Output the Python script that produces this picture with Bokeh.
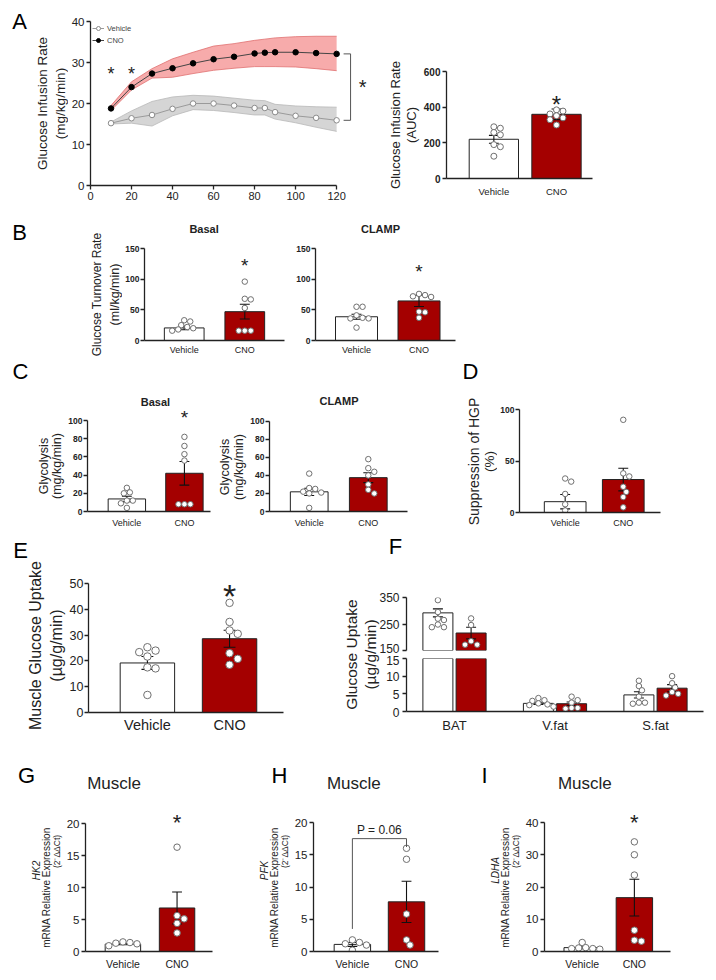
import math
from bokeh.plotting import figure
from bokeh.models import Range1d, FixedTicker, Label, Legend, LegendItem
from bokeh.layouts import row, column
from bokeh.embed import file_html
from bokeh.resources import INLINE

FONT = "Liberation Sans"
INK = "#222222"
RED = "#a40000"
PT = "#707070"

# ------------------------------------------------------------------ data
groups = ["Vehicle", "CNO"]

# A  glucose infusion rate (mg/kg/min), mean and shaded SEM band
time_min = [10, 20, 30, 40, 50, 60, 70, 80, 85, 90, 100, 110, 120]
gir_cno = [18.8, 24.0, 27.3, 28.6, 29.8, 30.8, 31.4, 32.2, 32.4, 32.5, 32.5, 32.3, 32.1]
gir_cno_lo = [18.3, 23.3, 26.2, 26.4, 27.3, 28.1, 28.6, 29.0, 29.0, 29.0, 28.9, 28.5, 28.0]
gir_cno_hi = [19.5, 25.3, 28.5, 30.9, 32.5, 34.0, 34.6, 35.4, 35.7, 36.0, 36.3, 36.4, 36.4]
gir_veh = [15.2, 16.4, 17.2, 18.7, 20.0, 20.0, 19.5, 18.9, 18.9, 17.9, 17.0, 16.5, 15.9]
gir_veh_lo = [15.0, 15.2, 14.5, 17.0, 18.5, 18.3, 17.8, 17.2, 17.2, 16.2, 15.3, 14.2, 13.2]
gir_veh_hi = [15.5, 18.2, 20.5, 21.6, 22.0, 21.8, 21.3, 20.8, 20.7, 19.8, 19.4, 19.2, 19.1]
time_ticks = [0, 20, 40, 60, 80, 100, 120]
gir_ticks = [0, 10, 20, 30, 40]

# A  AUC
auc_means = [220, 360]
auc_sems = [22, 30]
auc_veh = [290, 282, 258, 245, 190, 178, 125]
auc_cno = [385, 378, 362, 352, 340, 330, 300]
auc_ticks = [0, 200, 400, 600]

# B  glucose turnover rate (ml/kg/min)
turn_ticks = [0, 50, 100, 150]
turn_basal_means = [20.5, 47]
turn_basal_sems = [3, 12]
turn_basal_veh = [33, 31, 25, 22, 20, 18, 16]
turn_basal_cno = [96, 68, 67, 53, 16, 16, 16]
turn_clamp_means = [38.7, 64.5]
turn_clamp_sems = [4, 9]
turn_clamp_veh = [55, 55, 41, 37, 36, 36, 21]
turn_clamp_cno = [76, 74, 72, 71, 47, 46, 37]

# C  glycolysis (mg/kg/min)
glyc_ticks = [0, 20, 40, 60, 80, 100]
glyc_basal_means = [13.8, 42]
glyc_basal_sems = [3, 13]
glyc_basal_veh = [26, 21, 20, 12, 12, 9, 4]
glyc_basal_cno = [82, 72, 63, 56, 8, 8, 8]
glyc_clamp_means = [21.8, 37.5]
glyc_clamp_sems = [4, 5.5]
glyc_clamp_veh = [42, 26, 25, 22, 21, 20, 4]
glyc_clamp_cno = [58, 48, 44, 40, 30, 24, 20]

# D  suppression of HGP (%)
hgp_ticks = [0, 50, 100]
hgp_means = [10.5, 32]
hgp_sems = [7, 11]
hgp_veh = [33, 30, 18, 8, 2]
hgp_cno = [90, 38, 35, 25, 20, 15, 5]

# E  muscle glucose uptake (ug/g/min)
mgu_ticks = [0, 10, 20, 30, 40, 50]
mgu_means = [19.2, 28.6]
mgu_sems = [2.5, 3.3]
mgu_veh = [25.3, 24.0, 23.4, 21.7, 17.5, 17.1, 6.8]
mgu_cno = [42.5, 35.1, 31.8, 30.5, 23.0, 20.8, 18.5]

# F  tissue glucose uptake (ug/g/min), broken axis
tissues = ["BAT", "V.fat", "S.fat"]
tgu_top_ticks = [150, 250, 350]
tgu_bot_ticks = [0, 5, 10, 15]
tgu_veh_means = [292, 2.3, 4.7]
tgu_veh_sems = [15, 0.3, 0.9]
tgu_cno_means = [216, 2.2, 6.6]
tgu_cno_sems = [22, 0.5, 1.0]
tgu_veh_pts = [[340, 295, 270, 265, 248, 238, 238], [3.8, 3.2, 3.0, 2.3, 2.0, 1.8, 1.4], [8.7, 7.2, 6.0, 4.2, 2.5, 2.2, 2.5]]
tgu_cno_pts = [[271, 246, 185, 172, 172], [4.2, 3.2, 2.5, 1.0, 1.0, 0.8], [10.0, 8.0, 6.8, 5.0, 4.5, 5.5]]

# G-I  mRNA relative expression
expr_ticks_20 = [0, 5, 10, 15, 20]
expr_ticks_40 = [0, 10, 20, 30, 40]
hk2_means = [1.15, 6.8]
hk2_sems = [0.1, 2.5]
hk2_veh = [1.5, 1.4, 1.3, 1.2, 0.9]
hk2_cno = [16.3, 5.6, 5.1, 4.4, 2.9]
pfk_means = [1.1, 7.7]
pfk_sems = [0.3, 3.2]
pfk_veh = [1.8, 1.4, 1.2, 1.0, 0.2]
pfk_cno = [16.0, 14.3, 5.8, 1.8, 1.0]
ldha_means = [1.2, 16.7]
ldha_sems = [0.3, 5.7]
ldha_veh = [2.8, 1.2, 1.1, 0.9, 0.9, 0.7]
ldha_cno = [34.0, 30.0, 23.7, 6.6, 3.5, 3.2]


# ------------------------------------------------------------------ helpers
class Geo:
    """figure box (L,T,W,H) and frame box (fl,fr,ft,fb) in page pixels, plus data ranges"""
    def __init__(s, L, T, W, H, fl, fr, ft, fb, x0, x1, y0, y1):
        s.L, s.T, s.W, s.H = L, T, W, H
        s.fl, s.fr, s.ft, s.fb = fl, fr, ft, fb
        s.x0, s.x1, s.y0, s.y1 = x0, x1, y0, y1

    def dx(s, px):
        return s.x0 + (px - s.fl) * (s.x1 - s.x0) / (s.fr - s.fl)

    def dy(s, py):
        return s.y0 + (s.fb - py) * (s.y1 - s.y0) / (s.fb - s.ft)

    def py(s, v):
        return s.fb - (v - s.y0) * s.ppy()

    def ppx(s):
        return (s.fr - s.fl) / (s.x1 - s.x0)

    def ppy(s):
        return (s.fb - s.ft) / (s.y1 - s.y0)


def text_geo(L, T, W, H):
    return Geo(L, T, W, H, L, L + W, T, T + H, L, L + W, -(T + H), -T)


def ext(ymax, px_ymax, ft, fb):
    """range end so that ymax sits at px_ymax while the frame top is at ft"""
    return ymax * (fb - ft) / (fb - px_ymax)


def bar_geo(L, T, W, H, fl, fr, ft, fb, cv, cc, y0, y1):
    unit = cc - cv
    return Geo(L, T, W, H, fl, fr, ft, fb, 1 - (cv - fl) / unit, 2 + (fr - cc) / unit, y0, y1)


def make_fig(g, xaxis=True, yaxis=True):
    p = figure(width=g.W, height=g.H, x_range=Range1d(g.x0, g.x1), y_range=Range1d(g.y0, g.y1),
               output_backend="svg", toolbar_location=None, title=None,
               x_axis_location="below" if xaxis else None,
               y_axis_location="left" if yaxis else None,
               min_border_left=int(round(g.fl - g.L)), min_border_right=int(round(g.L + g.W - g.fr)),
               min_border_top=int(round(g.ft - g.T)), min_border_bottom=int(round(g.T + g.H - g.fb)))
    p.frame_align = False
    p.grid.visible = False
    p.outline_line_color = None
    p.border_fill_color = "white"
    p.background_fill_color = "white"
    return p


def style_axis(ax, size, bold=False, ticks=None, tick_out=4, standoff=2, overrides=None, bounds=None):
    ax.axis_line_color = INK
    ax.axis_line_width = 1.3
    ax.major_tick_line_color = INK
    ax.major_tick_line_width = 1.3
    ax.major_tick_out = tick_out
    ax.major_tick_in = 0
    ax.minor_tick_line_color = None
    ax.major_label_text_font = FONT
    ax.major_label_text_font_size = size
    ax.major_label_text_font_style = "bold" if bold else "normal"
    ax.major_label_text_color = INK
    ax.major_label_standoff = standoff
    if ticks is not None:
        ax.ticker = FixedTicker(ticks=ticks)
    if overrides:
        ax.major_label_overrides = overrides
    if bounds is not None:
        ax.bounds = bounds


def txt(p, g, xpx, ypx, text, size, style="normal", angle=0.0, color=INK, align="center"):
    p.add_layout(Label(x=g.dx(xpx), y=g.dy(ypx), text=text, text_font=FONT, text_font_size=size,
                       text_font_style=style, angle=angle, text_color=color,
                       text_align=align, text_baseline="middle"))


def swarm(vals, ppy, ppx, d):
    placed, offs = [], []
    for v in vals:
        y = v * ppy
        x = 0.0
        for k in [0, 1, -1, 2, -2, 3, -3, 4, -4, 5, -5]:
            x = k * d * 0.55
            if all((x - a) ** 2 + (y - b) ** 2 >= (0.95 * d) ** 2 for a, b in placed):
                break
        placed.append((x, y))
        offs.append(x / ppx)
    return offs


def errorbars(p, xs, means, sems, cap):
    x0s, y0s, x1s, y1s = [], [], [], []
    for x, m, s in zip(xs, means, sems):
        x0s += [x, x - cap, x - cap]
        y0s += [m - s, m + s, m - s]
        x1s += [x, x + cap, x + cap]
        y1s += [m + s, m + s, m - s]
    p.segment(x0=x0s, y0=y0s, x1=x1s, y1=y1s, line_color="#111111", line_width=1.1)


def points(p, g, x, vals, d):
    srt = sorted(vals, reverse=True)
    offs = swarm(srt, g.ppy(), g.ppx(), d)
    p.scatter(x=[x + o for o in offs], y=srt, size=d, marker="circle",
              fill_color="white", line_color=PT, line_width=1)


def bar_panel(g, veh, cno, means, sems, yticks, ysize, ybold, xsize, xstand, bar_px, d,
              cap_px=5, ystand=2):
    p = make_fig(g)
    ppx = g.ppx()
    xs = [1, 2]
    p.vbar(x=xs, top=means, bottom=0, width=bar_px / ppx, fill_color=["white", RED],
           line_color=INK, line_width=1)
    errorbars(p, xs, means, sems, cap_px / ppx)
    points(p, g, 1, veh, d)
    points(p, g, 2, cno, d)
    style_axis(p.yaxis[0], ysize, ybold, yticks, standoff=ystand, bounds=(yticks[0], yticks[-1]))
    style_axis(p.xaxis[0], xsize, False, [1, 2], tick_out=0, standoff=xstand,
               overrides={1: groups[0], 2: groups[1]})
    return p


def text_fig(L, T, W, H):
    g = text_geo(L, T, W, H)
    return make_fig(g, xaxis=False, yaxis=False), g


def letter(p, g, xpx, ypx, t):
    txt(p, g, xpx, ypx, t, "22px", color="#000000")


VERT = math.pi / 2

# ================================================================== row 1 (A)
labA, gLA = text_fig(0, 0, 68, 215)
letter(labA, gLA, 19, 21, "A")
txt(labA, gLA, 42, 103, "Glucose Infusion Rate", "13.5px", angle=VERT)
txt(labA, gLA, 59.5, 103, "(mg/kg/min)", "13.5px", angle=VERT)

gA1 = Geo(68, 0, 307, 215, 89, 372, 21, 185, 0, (372 - 89) / ((336 - 89) / 120), 0, 40)
pA1 = make_fig(gA1)
pA1.varea(x=time_min, y1=gir_veh_lo, y2=gir_veh_hi, fill_color="#d5d5d5")
pA1.line(time_min, gir_veh_lo, line_color="#b8b8b8", line_width=0.8)
pA1.line(time_min, gir_veh_hi, line_color="#b8b8b8", line_width=0.8)
pA1.varea(x=time_min, y1=gir_cno_lo, y2=gir_cno_hi, fill_color="#f7abab")
pA1.line(time_min, gir_cno_lo, line_color="#e07070", line_width=0.8)
pA1.line(time_min, gir_cno_hi, line_color="#e07070", line_width=0.8)
l_veh = pA1.line(time_min, gir_veh, line_color="#9a9a9a", line_width=1)
s_veh = pA1.scatter(time_min, gir_veh, size=5.5, marker="circle", fill_color="white", line_color="#8a8a8a")
l_cno = pA1.line(time_min, gir_cno, line_color="#444444", line_width=1)
s_cno = pA1.scatter(time_min, gir_cno, size=5.5, marker="circle", fill_color="black", line_color="black")
style_axis(pA1.xaxis[0], "11px", False, time_ticks, bounds=(0, 120))
style_axis(pA1.yaxis[0], "11.5px", False, gir_ticks)
leg = Legend(items=[LegendItem(label=groups[0], renderers=[l_veh, s_veh]),
                    LegendItem(label=groups[1], renderers=[l_cno, s_cno])],
             location="top_left", border_line_color=None, background_fill_alpha=0,
             label_text_font=FONT, label_text_font_size="7.5px", label_text_color="#444444",
             glyph_height=10, glyph_width=12, label_height=10, spacing=2, padding=4, margin=2,
             label_standoff=3)
pA1.add_layout(leg)
star_y = max(gir_cno_hi[:2]) + 2
for t in time_min[:2]:
    pA1.add_layout(Label(x=t, y=star_y, text="*", text_font=FONT, text_font_size="18px",
                         text_align="center", text_baseline="middle", text_color=INK))
bx0, bx1 = gA1.dx(343), gA1.dx(350)
ytop, ybot = gir_cno[-1], gir_veh[-1]
pA1.segment(x0=[bx0, bx1, bx0], y0=[ytop, ytop, ybot], x1=[bx1, bx1, bx1], y1=[ytop, ybot, ybot],
            line_color="#555555", line_width=1)
pA1.add_layout(Label(x=gA1.dx(362), y=(ytop + ybot) / 2, text="*", text_font=FONT, text_font_size="20px",
                     text_align="center", text_baseline="middle", text_color=INK))

labA2, gLA2 = text_fig(375, 0, 45, 215)
txt(labA2, gLA2, 395, 124.5, "Glucose Infusion Rate", "13px", angle=VERT)
txt(labA2, gLA2, 410.5, 124.5, "(AUC)", "13px", angle=VERT)

gA2 = bar_geo(420, 0, 180, 215, 444, 592, 71, 178, 492, 555.5, 0, 600)
pA2 = bar_panel(gA2, auc_veh, auc_cno, auc_means, auc_sems, auc_ticks, "10px", True, "9.5px", 7, 50, 6)
txt(pA2, gA2, 555.5, 104, "*", "24px")

# ================================================================== row 2 (B)
labB, gLB = text_fig(0, 215, 122, 143)
letter(labB, gLB, 19, 232, "B")
txt(labB, gLB, 96, 294, "Glucose Turnover Rate", "12px", angle=VERT)
txt(labB, gLB, 114, 294, "(ml/kg/min)", "12.5px", angle=VERT)

gB1 = bar_geo(122, 215, 164, 143, 143, 284, 218, 340, 183, 244, 0, ext(150, 248, 218, 340))
pB1 = bar_panel(gB1, turn_basal_veh, turn_basal_cno, turn_basal_means, turn_basal_sems,
                turn_ticks, "8.5px", True, "9px", 4, 40, 5.5, ystand=1)
gB2 = bar_geo(286, 215, 179, 143, 315, 455, 218, 340, 356, 418.5, 0, ext(150, 248, 218, 340))
pB2 = bar_panel(gB2, turn_clamp_veh, turn_clamp_cno, turn_clamp_means, turn_clamp_sems,
                turn_ticks, "8.5px", True, "9px", 4, 42, 5.5, ystand=1)
txt(pB1, gB1, 203, 228, "Basal", "11px", style="bold")
txt(pB2, gB2, 380, 228, "CLAMP", "11px", style="bold")
txt(pB1, gB1, 244, 265, "*", "19px")
txt(pB2, gB2, 418.5, 271, "*", "19px")

# ================================================================== row 3 (C, D)
labC1, gLC1 = text_fig(0, 358, 65, 172)
letter(labC1, gLC1, 20, 371, "C")
txt(labC1, gLC1, 43, 465.5, "Glycolysis", "12.5px", angle=VERT)
txt(labC1, gLC1, 56.5, 465.5, "(mg/kg/min)", "12.5px", angle=VERT)

gC1 = bar_geo(65, 358, 148, 172, 85, 210, 390, 511, 125, 183.5, 0, ext(100, 420, 390, 511))
pC1 = bar_panel(gC1, glyc_basal_veh, glyc_basal_cno, glyc_basal_means, glyc_basal_sems,
                glyc_ticks, "8.5px", True, "9px", 6, 38, 5.5, ystand=1)
txt(pC1, gC1, 154, 401, "Basal", "11px", style="bold")
txt(pC1, gC1, 183.5, 417, "*", "19px")

labC2, gLC2 = text_fig(213, 358, 34, 172)
txt(labC2, gLC2, 224, 466.5, "Glycolysis", "12.5px", angle=VERT)
txt(labC2, gLC2, 238, 466.5, "(mg/kg/min)", "12.5px", angle=VERT)

gC2 = bar_geo(247, 358, 208, 172, 268, 407, 390, 512, 308, 367.5, 0, ext(100, 421, 390, 512))
pC2 = bar_panel(gC2, glyc_clamp_veh, glyc_clamp_cno, glyc_clamp_means, glyc_clamp_sems,
                glyc_ticks, "8.5px", True, "9px", 6, 38, 5.5, ystand=1)
txt(pC2, gC2, 338, 401, "CLAMP", "11px", style="bold")

labD, gLD = text_fig(455, 358, 42, 172)
letter(labD, gLD, 470, 371, "D")
txt(labD, gLD, 473, 461, "Suppression of HGP", "14px", angle=VERT)
txt(labD, gLD, 489, 461, "(%)", "13.5px", angle=VERT)

gD = bar_geo(497, 358, 217, 172, 518, 660, 409, 513, 564, 622.5, 0, 100)
pD = bar_panel(gD, hgp_veh, hgp_cno, hgp_means, hgp_sems, hgp_ticks, "8.5px", True, "9px", 5, 42, 5.5,
               ystand=1)

# ================================================================== row 4 (E, F)
labE, gLE = text_fig(0, 530, 66, 205)
letter(labE, gLE, 20, 550, "E")
txt(labE, gLE, 35, 645, "Muscle Glucose Uptake", "16px", angle=VERT)
txt(labE, gLE, 56, 645, "(µg/g/min)", "16px", angle=VERT)

gE = bar_geo(66, 530, 234, 205, 86, 283, 570, 712, 145.5, 228.5, 0, ext(50, 583, 570, 712))
pE = bar_panel(gE, mgu_veh, mgu_cno, mgu_means, mgu_sems, mgu_ticks, "12.5px", False, "14.5px", 4, 55,
               7.5, 6, ystand=1)
txt(pE, gE, 228.5, 595, "*", "34px")

F_L = 400
pFlet, gFlet = text_fig(300, 530, 414, 55)
letter(pFlet, gFlet, 395, 546, "F")
labF, gLF = text_fig(300, 585, F_L - 300, 150)
txt(labF, gLF, 351, 654, "Glucose Uptake", "15.5px", angle=VERT)
txt(labF, gLF, 369.5, 654, "(µg/g/min)", "15.5px", angle=VERT)

F_UNIT = 100.5
fx0 = (406 - 454) / F_UNIT
fx1 = 2 + (703 - 655) / F_UNIT
gFt = Geo(F_L, 585, 714 - F_L, 69, 406, 703, 597, 650, fx0, fx1, 150, 350)
gFb = Geo(F_L, 654, 714 - F_L, 81, 406, 703, 658, 712, fx0, fx1, 0, 15)
pFt = make_fig(gFt, xaxis=False)
pFb = make_fig(gFb)
f_off = 16.6 / F_UNIT
f_w = 30 / F_UNIT
f_cap = 5 / F_UNIT
gx = list(range(len(tissues)))
vx = [x - f_off for x in gx]
cx = [x + f_off for x in gx]
# upper segment: only the groups that reach above the break
top_start = gFt.y0
vt = [i for i in gx if tgu_veh_means[i] > top_start]
ct = [i for i in gx if tgu_cno_means[i] > top_start]
pFt.vbar(x=[vx[i] for i in vt], top=[tgu_veh_means[i] for i in vt], bottom=top_start, width=f_w,
         fill_color="white", line_color=INK, line_width=1)
pFt.vbar(x=[cx[i] for i in ct], top=[tgu_cno_means[i] for i in ct], bottom=top_start, width=f_w,
         fill_color=RED, line_color=INK, line_width=1)
errorbars(pFt, [vx[i] for i in vt], [tgu_veh_means[i] for i in vt], [tgu_veh_sems[i] for i in vt], f_cap)
errorbars(pFt, [cx[i] for i in ct], [tgu_cno_means[i] for i in ct], [tgu_cno_sems[i] for i in ct], f_cap)
# lower segment
pFb.vbar(x=vx, top=tgu_veh_means, bottom=0, width=f_w, fill_color="white", line_color=INK, line_width=1)
pFb.vbar(x=cx, top=tgu_cno_means, bottom=0, width=f_w, fill_color=RED, line_color=INK, line_width=1)
lo = [i for i in gx if tgu_veh_means[i] <= gFb.y1]
errorbars(pFb, [vx[i] for i in lo], [tgu_veh_means[i] for i in lo], [tgu_veh_sems[i] for i in lo], f_cap)
lo_c = [i for i in gx if tgu_cno_means[i] <= gFb.y1]
errorbars(pFb, [cx[i] for i in lo_c], [tgu_cno_means[i] for i in lo_c], [tgu_cno_sems[i] for i in lo_c], f_cap)
for i in gx:
    if tgu_veh_means[i] > top_start:
        points(pFt, gFt, vx[i], tgu_veh_pts[i], 5.5)
    else:
        points(pFb, gFb, vx[i], tgu_veh_pts[i], 5.5)
    if tgu_cno_means[i] > top_start:
        points(pFt, gFt, cx[i], tgu_cno_pts[i], 5.5)
    else:
        points(pFb, gFb, cx[i], tgu_cno_pts[i], 5.5)
# broken y axis: tick marks on the two segments, tick labels set in the label column beside them
style_axis(pFt.yaxis[0], "12px", False, tgu_top_ticks, standoff=0,
           overrides={t: "" for t in tgu_top_ticks})
style_axis(pFb.yaxis[0], "12px", False, tgu_bot_ticks, standoff=0,
           overrides={t: "" for t in tgu_bot_ticks})
style_axis(pFb.xaxis[0], "13px", False, gx, tick_out=0, standoff=6,
           overrides={i: t for i, t in enumerate(tissues)})
for t in tgu_top_ticks:
    nudge = -2 if t == tgu_top_ticks[0] else 0
    txt(labF, gLF, F_L - 1, gFt.py(t) + nudge, str(t), "12px", align="right")
for t in tgu_bot_ticks:
    nudge = 2 if t == tgu_bot_ticks[-1] else 0
    txt(labF, gLF, F_L - 1, gFb.py(t) + nudge, str(t), "12px", align="right")

# ================================================================== row 5 (G, H, I)
labG, gLG = text_fig(0, 735, 63, 240)
gG = bar_geo(63, 735, 177, 240, 83, 212, 760, 951, 121, 176, 0, ext(20, 823, 760, 951))
pG = bar_panel(gG, hk2_veh, hk2_cno, hk2_means, hk2_sems, expr_ticks_20, "11.5px", False, "10.5px", 6, 36, 6.5)
labH, gLH = text_fig(240, 735, 51, 240)
gH = bar_geo(291, 735, 179, 240, 311, 438, 760, 951, 350.5, 405.5, 0, ext(20, 822, 760, 951))
pH = bar_panel(gH, pfk_veh, pfk_cno, pfk_means, pfk_sems, expr_ticks_20, "11.5px", False, "10.5px", 6, 37, 6.5)
labI, gLI = text_fig(470, 735, 52, 240)
gI = bar_geo(522, 735, 192, 240, 542, 670, 760, 951, 580.3, 633.3, 0, ext(40, 822, 760, 951))
pI = bar_panel(gI, ldha_veh, ldha_cno, ldha_means, ldha_sems, expr_ticks_40, "11.5px", False, "10.5px", 6, 37, 6.5)

for lab, gl, p, g, let, lx, mx, gene in ((labG, gLG, pG, gG, "G", 26, 112, "HK2"),
                                         (labH, gLH, pH, gH, "H", 279, 352, "PFK"),
                                         (labI, gLI, pI, gI, "I", 484, 583, "LDHA")):
    letter(lab, gl, lx, 775, let)
    txt(p, g, mx, 783, "Muscle", "17px")
    mid = 887
    txt(lab, gl, g.fl - 47, mid - 17, gene, "10px", style="italic", angle=VERT)
    txt(lab, gl, g.fl - 37, mid, "mRNA Relative Expression", "10px", angle=VERT)
    txt(lab, gl, g.fl - 26.5, mid - 36, "(2⁻ΔΔCt)", "8.5px", angle=VERT)

txt(pG, gG, 176, 822, "*", "22px")
txt(pI, gI, 633.3, 822, "*", "22px")
yb_top = max(pfk_cno) + 1.5
pH.segment(x0=[1, 1, 2], y0=[max(pfk_veh) + 1.7, yb_top, yb_top], x1=[1, 2, 2],
           y1=[yb_top, yb_top, max(pfk_cno) + 0.2], line_color="#555555", line_width=1)
pH.add_layout(Label(x=1.5, y=yb_top + 1.3, text="P = 0.06", text_font=FONT, text_font_size="12px",
                    text_align="center", text_baseline="middle", text_color=INK))

layout = column(
    row(labA, pA1, labA2, pA2),
    row(labB, pB1, pB2),
    row(labC1, pC1, labC2, pC2, labD, pD),
    row(labE, pE, column(pFlet, row(labF, column(pFt, pFb)))),
    row(labG, pG, labH, pH, labI, pI),
)

open("out.html", "w").write(file_html(layout, INLINE))
